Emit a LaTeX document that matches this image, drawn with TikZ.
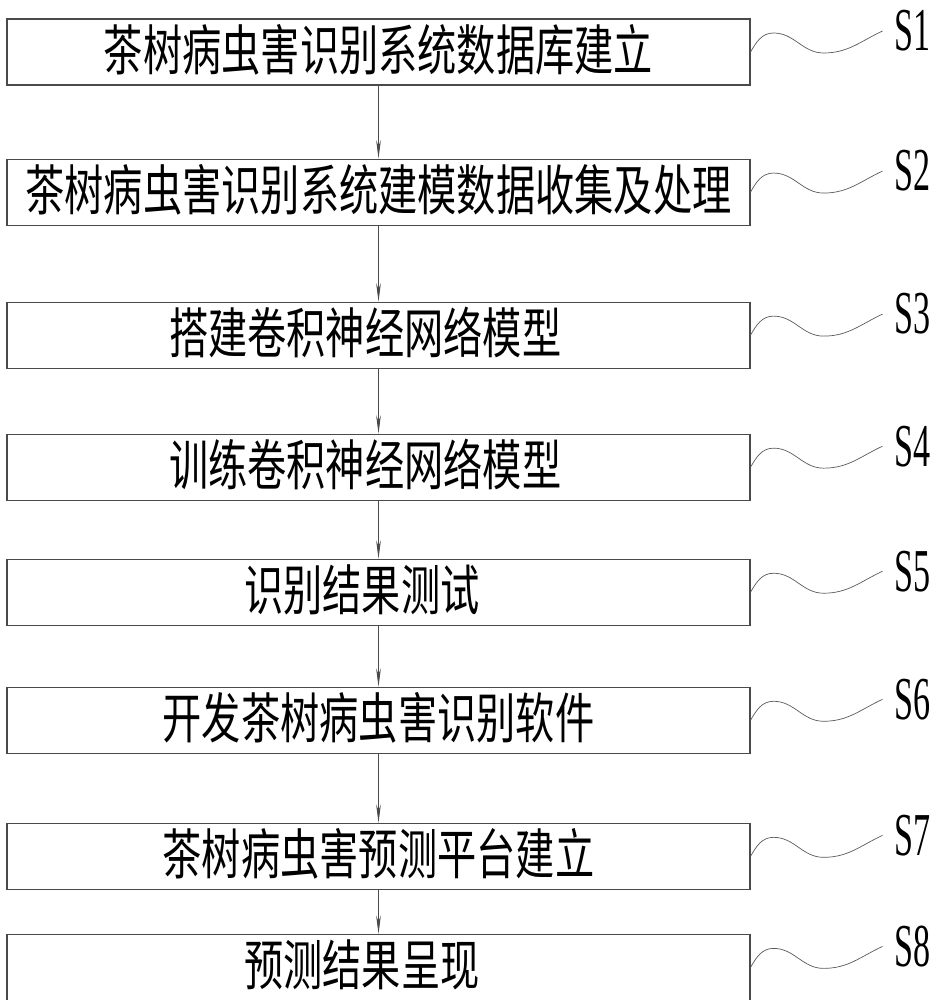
\documentclass[tikz,border=0pt]{standalone}
\usepackage{fontspec}
\usetikzlibrary{arrows.meta,positioning}
\newfontfamily\cjkfont[FakeStretch=0.72]{Noto Sans CJK SC}
\newfontfamily\stepfont[FakeStretch=0.56]{Liberation Serif}
\definecolor{FlowLine}{HTML}{4A4A4A}
\definecolor{WaveLine}{HTML}{5A5A5A}

\begin{document}
\begin{tikzpicture}[node distance=2cm,
    stepbox/.style={draw=FlowLine,line width=0.9pt,minimum width=22.29cm,minimum height=1.98cm,inner sep=0pt,text height=1.25cm,text depth=0.15cm,font=\cjkfont\fontsize{46.5}{46.5}\selectfont},
    steplabel/.style={inner xsep=0.35cm,inner ysep=0pt,font=\stepfont\fontsize{52}{52}\selectfont},
    wave/.style={draw=WaveLine,line width=0.6pt}]
    \useasboundingbox (0,0) rectangle (28.17,-30);
    \node[stepbox] (b1) at (11.355,-1.56) {茶树病虫害识别系统数据库建立};
    \node[stepbox,below=2.19cm of b1] (b2) {茶树病虫害识别系统建模数据收集及处理};
    \node[stepbox,below=2.28cm of b2] (b3) {搭建卷积神经网络模型\hspace*{0.8cm}};
    \node[stepbox,below=1.95cm of b3] (b4) {训练卷积神经网络模型\hspace*{0.8cm}};
    \node[stepbox,below=1.74cm of b4] (b5) {识别结果测试\hspace*{1cm}};
    \node[stepbox,below=1.83cm of b5] (b6) {开发茶树病虫害识别软件};
    \node[stepbox,below=2.07cm of b6] (b7) {茶树病虫害预测平台建立};
    \node[stepbox,below=1.32cm of b7] (b8) {预测结果呈现\hspace*{1cm}};
    \draw[-{Stealth[length=0.55cm,width=0.14cm]},FlowLine,line width=0.6pt] (b1)--(b2);
    \draw[-{Stealth[length=0.55cm,width=0.14cm]},FlowLine,line width=0.6pt] (b2)--(b3);
    \draw[-{Stealth[length=0.55cm,width=0.14cm]},FlowLine,line width=0.6pt] (b3)--(b4);
    \draw[-{Stealth[length=0.55cm,width=0.14cm]},FlowLine,line width=0.6pt] (b4)--(b5);
    \draw[-{Stealth[length=0.55cm,width=0.14cm]},FlowLine,line width=0.6pt] (b5)--(b6);
    \draw[-{Stealth[length=0.55cm,width=0.14cm]},FlowLine,line width=0.6pt] (b6)--(b7);
    \draw[-{Stealth[length=0.55cm,width=0.14cm]},FlowLine,line width=0.6pt] (b7)--(b8);
    % step labels
    \node[steplabel,right=3.96cm of b1.east,yshift=0.63cm] (l1) {S1};
    \node[steplabel,right=3.96cm of b2.east,yshift=0.63cm] (l2) {S2};
    \node[steplabel,right=3.96cm of b3.east,yshift=0.63cm] (l3) {S3};
    \node[steplabel,right=3.96cm of b4.east,yshift=0.63cm] (l4) {S4};
    \node[steplabel,right=3.96cm of b5.east,yshift=0.63cm] (l5) {S5};
    \node[steplabel,right=3.96cm of b6.east,yshift=0.63cm] (l6) {S6};
    \node[steplabel,right=3.96cm of b7.east,yshift=0.63cm] (l7) {S7};
    \node[steplabel,right=3.96cm of b8.east,yshift=0.63cm] (l8) {S8};
    \draw[wave] (b1.east) to[out=60,in=180] ++(0.69,0.57) to[out=0,in=180] ++(1.5,-0.6) to[out=0,in=205] (l1.west);
    \draw[wave] (b2.east) to[out=60,in=180] ++(0.69,0.57) to[out=0,in=180] ++(1.5,-0.6) to[out=0,in=205] (l2.west);
    \draw[wave] (b3.east) to[out=60,in=180] ++(0.69,0.57) to[out=0,in=180] ++(1.5,-0.6) to[out=0,in=205] (l3.west);
    \draw[wave] (b4.east) to[out=60,in=180] ++(0.69,0.57) to[out=0,in=180] ++(1.5,-0.6) to[out=0,in=205] (l4.west);
    \draw[wave] (b5.east) to[out=60,in=180] ++(0.69,0.57) to[out=0,in=180] ++(1.5,-0.6) to[out=0,in=205] (l5.west);
    \draw[wave] (b6.east) to[out=60,in=180] ++(0.69,0.57) to[out=0,in=180] ++(1.5,-0.6) to[out=0,in=205] (l6.west);
    \draw[wave] (b7.east) to[out=60,in=180] ++(0.69,0.57) to[out=0,in=180] ++(1.5,-0.6) to[out=0,in=205] (l7.west);
    \draw[wave] (b8.east) to[out=60,in=180] ++(0.69,0.57) to[out=0,in=180] ++(1.5,-0.6) to[out=0,in=205] (l8.west);
\end{tikzpicture}
\end{document}
